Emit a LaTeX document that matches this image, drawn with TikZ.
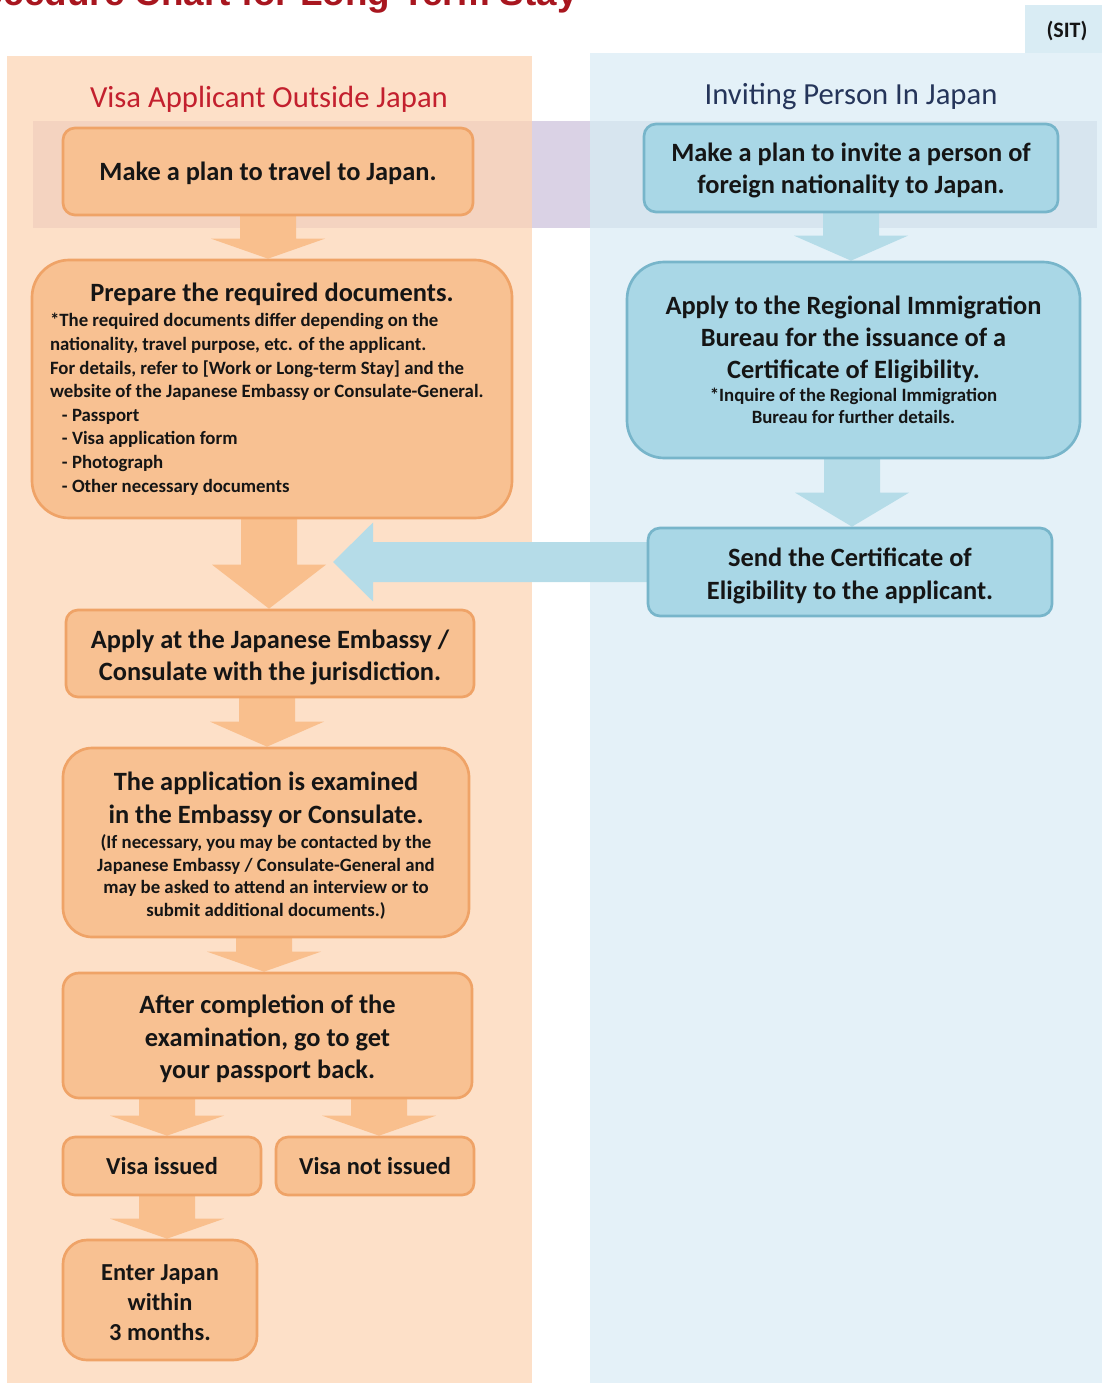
\documentclass[tikz,border=0pt]{standalone}
\usepackage{fontspec}
\setmainfont{Carlito}
\newfontfamily\titlefont{Liberation Sans}
\usetikzlibrary{calc}
\definecolor{peachbg}{HTML}{FDE0C8}
\definecolor{bluebg}{HTML}{E4F1F8}
\definecolor{sitbg}{HTML}{D9ECF4}
\definecolor{bandL}{HTML}{F4D3C0}
\definecolor{bandM}{HTML}{DAD2E5}
\definecolor{bandR}{HTML}{D7E5EF}
\definecolor{ofill}{HTML}{F8C192}
\definecolor{odraw}{HTML}{EFA367}
\definecolor{oarrow}{HTML}{F9BF8D}
\definecolor{bfill}{HTML}{A9D7E6}
\definecolor{bdraw}{HTML}{77B5CA}
\definecolor{barrow}{HTML}{B5DCE8}
\definecolor{headred}{HTML}{C3202E}
\definecolor{headblue}{HTML}{25355A}
\definecolor{titlered}{HTML}{A8161F}
\definecolor{ink}{HTML}{151515}
\pgfdeclarelayer{bg}
\pgfsetlayers{bg,main}
\newcommand\dnarrow[5]{% from, to, colour, x (px), head length (px)
  \fill[#3] let \p1=(#1.south), \p2=(#2.north) in
    ({#4*0.75pt-21pt},{\y1+3pt}) -- ({#4*0.75pt+21pt},{\y1+3pt})
    -- ({#4*0.75pt+21pt},{\y2+#5*0.75pt}) -- ({#4*0.75pt+42.75pt},{\y2+#5*0.75pt})
    -- ({#4*0.75pt},{\y2}) -- ({#4*0.75pt-42.75pt},{\y2+#5*0.75pt})
    -- ({#4*0.75pt-21pt},{\y2+#5*0.75pt}) -- cycle;}
\newcommand\lift[1]{\rule{0pt}{#1}}
\begin{document}
\begin{tikzpicture}[x=0.75pt,y=-0.75pt,
  boxbase/.style={line width=2pt, inner sep=0pt, align=center, text=ink,
    font=\bfseries\fontsize{19.8}{24.5}\selectfont},
  obox/.style={boxbase, draw=odraw, fill=ofill, rounded corners=9pt},
  bbox/.style={boxbase, draw=bdraw, fill=bfill, rounded corners=9pt}]
\useasboundingbox (0,0) rectangle (1102,1383);
\clip (0,0) rectangle (1102,1383);
\begin{pgfonlayer}{bg}
\fill[peachbg] (7,56) rectangle (532,1383);
\fill[bluebg] (590,53) rectangle (1102,1383);
\fill[sitbg] (1025,5) rectangle (1102,53);
\fill[bandL] (33,121) rectangle (532,228);
\fill[bandM] (532,121) rectangle (590,228);
\fill[bandR] (590,121) rectangle (1097,228);
\end{pgfonlayer}

\node[anchor=base east, font=\titlefont\bfseries\fontsize{27.6}{30}\selectfont, text=titlered, inner sep=0pt] (title) at (578,6) {Procedure Chart for Long-Term Stay};
\node[font=\bfseries\fontsize{16.5}{18}\selectfont, text=ink, inner sep=0pt] (sit) at (1067,31) {(SIT)};
\node[font=\fontsize{23}{26}\selectfont, text=headred, inner sep=0pt] (hl) at (269,99) {Visa Applicant Outside Japan};
\node[font=\fontsize{23}{26}\selectfont, text=headblue, inner sep=0pt] (hr) at (851,97) {Inviting Person In Japan};

% left column
\node[obox, minimum width=307.5pt, minimum height=65.25pt] (L1) at (268,171.5) {\lift{15.9pt}Make a plan to travel to Japan.};
\node[obox, rounded corners=28pt, minimum width=360pt, minimum height=193.5pt, text width=333pt, align=flush left] (L2) at (272,389)
  {\centerline{\fontsize{19.8}{24.5}\selectfont Prepare the required documents.}\par\vspace{1.5pt}%
   {\fontsize{14.1}{17.7}\selectfont *The required documents differ depending on the\\
   nationality, travel purpose, etc. of the applicant.\\
   For details, refer to [Work or Long-term Stay] and the\\
   website of the Japanese Embassy or Consulate-General.\\
   \hspace*{9pt}- Passport\\
   \hspace*{9pt}- Visa application form\\
   \hspace*{9pt}- Photograph\\
   \hspace*{9pt}- Other necessary documents\par}};
\node[obox, minimum width=306pt, minimum height=65.25pt] (L3) at (270,653.5) {\lift{20pt}Apply at the Japanese Embassy /\\ Consulate with the jurisdiction.};
\node[obox, rounded corners=22pt, minimum width=304.5pt, minimum height=141.75pt, text width=300pt, align=flush center] (L4) at (266,842.5)
  {{\fontsize{19.8}{24.75}\selectfont \lift{18.2pt}The application is examined\\ in the Embassy or Consulate.\par}\vspace{2pt}%
   {\fontsize{14.1}{16.9}\selectfont (If necessary, you may be contacted by the\\
   Japanese Embassy / Consulate-General and\\
   may be asked to attend an interview or to\\
   submit additional documents.)\par}};
\node[obox, rounded corners=12pt, minimum width=306.75pt, minimum height=93.75pt] (L5) at (267.5,1035.5) {\lift{19pt}After completion of the\\ examination, go to get\\ your passport back.};
\node[obox, minimum width=148.5pt, minimum height=43.5pt, font=\bfseries\fontsize{18.3}{22.5}\selectfont] (L6) at (162,1166) {Visa issued};
\node[obox, minimum width=148.5pt, minimum height=43.5pt, font=\bfseries\fontsize{18.3}{22.5}\selectfont] (L7) at (375,1166) {Visa not issued};
\node[obox, rounded corners=18pt, minimum width=145.5pt, minimum height=90pt, font=\bfseries\fontsize{18.3}{22.5}\selectfont] (L8) at (160,1300) {\lift{15.6pt}Enter Japan\\ within\\ 3 months.};

% right column
\node[bbox, minimum width=310.5pt, minimum height=66pt] (R1) at (851,168) {\lift{17.5pt}Make a plan to invite a person of\\ foreign nationality to Japan.};
\node[bbox, rounded corners=28pt, minimum width=339.75pt, minimum height=147pt, text width=330pt, align=flush center] (R2) at (853.5,360)
  {{\fontsize{19.8}{24}\selectfont Apply to the Regional Immigration\\ Bureau for the issuance of a\\ Certificate of Eligibility.\par}\vspace{1pt}%
   {\fontsize{14.1}{16.5}\selectfont *Inquire of the Regional Immigration\\ Bureau for further details.\par}};
\node[bbox, minimum width=303pt, minimum height=66pt] (R3) at (850,572) {\lift{19.7pt}Send the Certificate of\\ Eligibility to the applicant.};
\coordinate (tipH) at (333,562);

\begin{pgfonlayer}{bg}
\dnarrow{L1}{L2}{oarrow}{268}{20}
\dnarrow{L2}{L3}{oarrow}{269}{44}
\dnarrow{L3}{L4}{oarrow}{267}{25}
\dnarrow{L4}{L5}{oarrow}{264}{20}
\dnarrow{L5}{L6}{oarrow}{167}{20}
\dnarrow{L5}{L7}{oarrow}{379}{20}
\dnarrow{L6}{L8}{oarrow}{167}{20}
\dnarrow{R1}{R2}{barrow}{851}{25}
\dnarrow{R2}{R3}{barrow}{852}{34}
\fill[barrow] let \p1=(R3.west), \p2=(tipH) in
  ({\x1+4pt},{\y2+15pt}) -- ({\x2+30pt},{\y2+15pt}) -- ({\x2+30pt},{\y2+29.6pt})
  -- (\x2,\y2) -- ({\x2+30pt},{\y2-29.6pt}) -- ({\x2+30pt},{\y2-15pt})
  -- ({\x1+4pt},{\y2-15pt}) -- cycle;
\end{pgfonlayer}
\end{tikzpicture}
\end{document}
